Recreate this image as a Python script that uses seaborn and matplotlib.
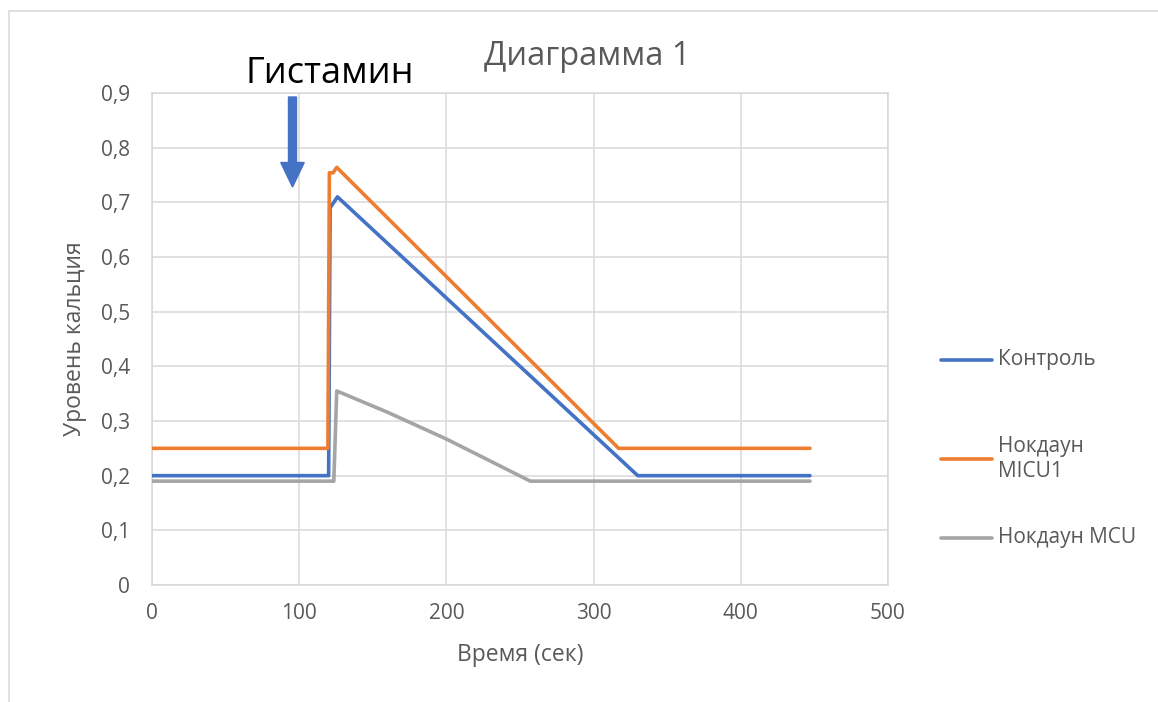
import matplotlib
matplotlib.use("Agg")
import matplotlib.pyplot as plt
from matplotlib.lines import Line2D
from matplotlib.patches import FancyArrow
import seaborn as sns
import pandas as pd

# ---- data ----
series_names = ["Контроль", "Нокдаун\nMICU1", "Нокдаун MCU"]
control_x = [0, 120, 121, 123, 126, 330, 447]
control_y = [0.20, 0.20, 0.69, 0.698, 0.710, 0.20, 0.20]
micu1_x = [0, 119.5, 120.5, 123, 125.5, 317, 447]
micu1_y = [0.25, 0.25, 0.754, 0.754, 0.764, 0.25, 0.25]
mcu_x = [0, 123.5, 125.5, 160, 200, 257, 447]
mcu_y = [0.19, 0.19, 0.355, 0.316, 0.267, 0.19, 0.19]
colors = ["#4472C4", "#ED7D31", "#A5A5A5"]
x_ticks = [0, 100, 200, 300, 400, 500]
y_ticks = [0, 0.1, 0.2, 0.3, 0.4, 0.5, 0.6, 0.7, 0.8, 0.9]
y_tick_labels = ["0", "0,1", "0,2", "0,3", "0,4", "0,5", "0,6", "0,7", "0,8", "0,9"]
title = "Диаграмма 1"
x_label = "Время (сек)"
y_label = "Уровень кальция"
annotation = "Гистамин"

sns.set_theme(style="white")
plt.rcParams["font.family"] = ["Open Sans", "DejaVu Sans"]

W, H = 1158, 702
fig = plt.figure(figsize=(W / 100, H / 100), dpi=100)
fig.patch.set_facecolor("white")

def fx(px):
    return px / W

def fy(py):
    return 1 - py / H

ax = fig.add_axes([fx(152), fy(585), fx(888) - fx(152), fy(93) - fy(585)])

frames = []
for name, xs, ys in zip(series_names,
                        [control_x, micu1_x, mcu_x],
                        [control_y, micu1_y, mcu_y]):
    frames.append(pd.DataFrame({"t": xs, "v": ys, "s": name}))
df = pd.concat(frames, ignore_index=True)

sns.lineplot(data=df, x="t", y="v", hue="s", palette=colors,
             estimator=None, sort=False, legend=False, linewidth=2.6, ax=ax,
             solid_capstyle="round", solid_joinstyle="round", zorder=3)

ax.set_xlim(0, 500)
ax.set_ylim(0, 0.9)
ax.set_xticks(x_ticks)
ax.set_xticklabels([str(v) for v in x_ticks])
ax.set_yticks(y_ticks)
ax.set_yticklabels(y_tick_labels)
ax.tick_params(axis="both", length=0, labelsize=15, labelcolor="#595959")
ax.tick_params(axis="y", pad=16)
ax.tick_params(axis="x", pad=13)
ax.grid(True, color="#d9d9d9", linewidth=1.1)
for sp in ax.spines.values():
    sp.set_color("#d9d9d9")
    sp.set_linewidth(1.1)
ax.set_xlabel("")
ax.set_ylabel("")

fig.text(fx(520), fy(655), x_label, ha="center", va="center", fontsize=16.5, color="#595959")
fig.text(fx(75), fy(339), y_label, ha="center", va="center", rotation=90, fontsize=16.5, color="#595959")
fig.text(fx(587), fy(65), title, ha="center", va="baseline", fontsize=23.5, color="#595959")
fig.text(fx(330), fy(83), annotation, ha="center", va="baseline", fontsize=26, color="black")

# arrow
arrow = FancyArrow(292.5 / 100, (H - 97) / 100, 0, -0.90, width=0.08,
                   head_width=0.235, head_length=0.245, length_includes_head=True,
                   color="#4472C4", transform=fig.dpi_scale_trans)
fig.add_artist(arrow)

# legend (manual)
leg_y = [360, 459, 538]
for name, c, yy in zip(series_names, colors, leg_y):
    fig.add_artist(Line2D([fx(941), fx(992)], [fy(yy), fy(yy)], color=c, linewidth=2.6,
                          solid_capstyle="round"))
    fig.text(fx(998), fy(yy), name, ha="left", va="center", fontsize=15,
             color="#595959", linespacing=1.3)

# outer frame (partly cropped)
fig.add_artist(Line2D([fx(8.5), fx(8.5)], [fy(11), 0], color="#d9d9d9", linewidth=1.1))
fig.add_artist(Line2D([fx(8.5), 1], [fy(11), fy(11)], color="#d9d9d9", linewidth=1.1))

fig.savefig("out.png", dpi=100, facecolor="white")
